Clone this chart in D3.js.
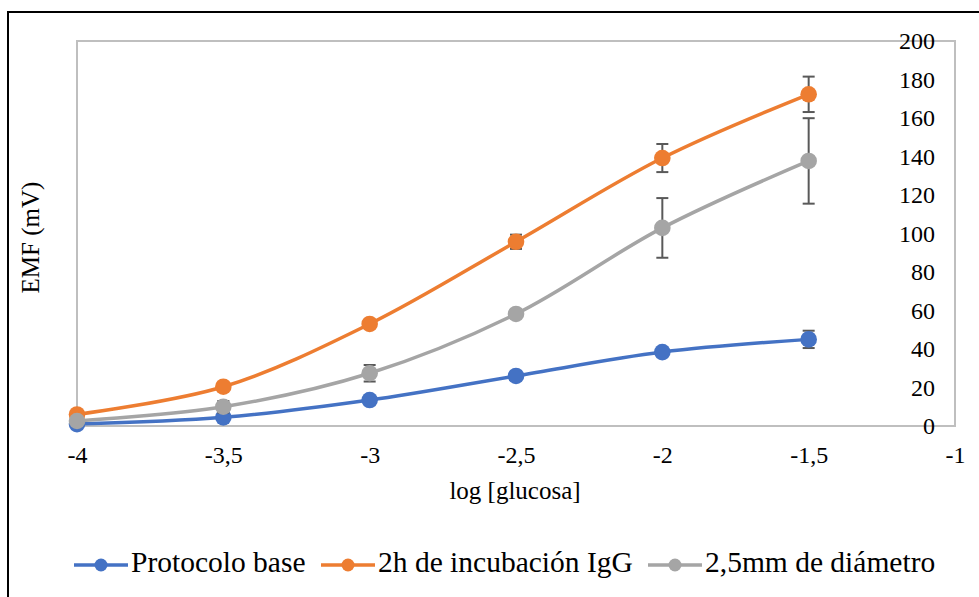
<!DOCTYPE html>
<html>
<head>
<meta charset="utf-8">
<script src="https://cdn.jsdelivr.net/npm/d3@7"></script>
<style>
  body { margin: 0; background: #fff; }
  svg text { font-family: "Liberation Serif", "Times New Roman", serif; }
</style>
</head>
<body>
<div id="chart"></div>
<script>
const xValues = [-4, -3.5, -3, -2.5, -2, -1.5];
const xTicks = [-4, -3.5, -3, -2.5, -2, -1.5, -1];
const yTicks = [0, 20, 40, 60, 80, 100, 120, 140, 160, 180, 200];

const seriesNames = ['Protocolo base', '2h de incubación IgG', '2,5mm de diámetro'];
const baseValues = [1, 4.5, 13.5, 26, 38.4, 45];
const baseErrors = [0.3, 0.5, 0.8, 1, 1.2, 4.5];
const iggValues = [6, 20.4, 53, 95.7, 139.2, 172.3];
const iggErrors = [0.5, 1, 1, 3.7, 7.3, 9.2];
const diamValues = [2.6, 10, 27.4, 58.2, 102.9, 137.7];
const diamErrors = [0.5, 3, 4.3, 1, 15.5, 22.2];

const colors = ['#4472C4', '#ED7D31', '#A5A5A5'];
const serif = '"Liberation Serif", "Times New Roman", serif';

const width = 979, height = 597;
const plot = { left: 77, right: 955, top: 41, bottom: 426 };

const svg = d3.select('#chart').append('svg')
    .attr('width', width)
    .attr('height', height)
    .style('display', 'block');

// outer chart frame (only left/top edges fall inside the picture)
svg.append('rect')
    .attr('x', 8).attr('y', 12)
    .attr('width', 1000).attr('height', 1000)
    .attr('fill', 'none')
    .attr('stroke', '#000')
    .attr('stroke-width', 2);

const x = d3.scaleLinear().domain([-4, -1]).range([plot.left, plot.right]);
const y = d3.scaleLinear().domain([0, 200]).range([plot.bottom, plot.top]);

// plot area border
svg.append('rect')
    .attr('x', plot.left).attr('y', plot.top)
    .attr('width', plot.right - plot.left)
    .attr('height', plot.bottom - plot.top)
    .attr('fill', 'none')
    .attr('stroke', '#BFBFBF')
    .attr('stroke-width', 2);

// x tick labels
const xFmt = d => String(d).replace('.', ',');
const xAxis = d3.axisBottom(x).tickValues(xTicks).tickFormat(xFmt).tickSize(0).tickPadding(0);
const gx = svg.append('g').attr('transform', `translate(0,${plot.bottom + 20})`).call(xAxis);
gx.attr('font-family', null);
gx.select('.domain').remove();
gx.selectAll('text')
    .style('font-family', serif)
    .style('font-size', '24px')
    .attr('fill', '#000');

// y tick labels (right side, inside frame)
const yAxis = d3.axisLeft(y).tickValues(yTicks).tickSize(0).tickPadding(0);
const gy = svg.append('g').attr('transform', `translate(935,0)`).call(yAxis);
gy.attr('font-family', null);
gy.select('.domain').remove();
gy.selectAll('text')
    .style('font-family', serif)
    .style('font-size', '24px')
    .attr('fill', '#000');

// axis titles
svg.append('text')
    .attr('x', (plot.left + plot.right) / 2 - 1)
    .attr('y', 493)
    .attr('text-anchor', 'middle')
    .attr('dominant-baseline', 'middle')
    .style('font-size', '25px')
    .text('log [glucosa]');

svg.append('text')
    .attr('transform', `translate(33,${(plot.top + plot.bottom) / 2 + 4}) rotate(-90)`)
    .attr('text-anchor', 'middle')
    .attr('dominant-baseline', 'middle')
    .style('font-size', '25px')
    .text('EMF (mV)');

const series = [
    { values: baseValues, errors: baseErrors },
    { values: iggValues, errors: iggErrors },
    { values: diamValues, errors: diamErrors }
];

const line = d3.line()
    .x(d => x(d.x))
    .y(d => y(d.v))
    .curve(d3.curveCatmullRom.alpha(0.5));

series.forEach((s, i) => {
    const pts = xValues.map((xv, j) => ({ x: xv, v: s.values[j], e: s.errors[j] }));
    const g = svg.append('g');

    g.append('path')
        .datum(pts)
        .attr('d', line)
        .attr('fill', 'none')
        .attr('stroke', colors[i])
        .attr('stroke-width', 3.5)
        .attr('stroke-linecap', 'round');

    const eb = g.selectAll('.err').data(pts).enter().append('g').attr('class', 'err')
        .attr('stroke', '#595959').attr('stroke-width', 2);
    eb.append('line')
        .attr('x1', d => x(d.x)).attr('x2', d => x(d.x))
        .attr('y1', d => y(d.v + d.e)).attr('y2', d => y(d.v - d.e));
    eb.append('line')
        .attr('x1', d => x(d.x) - 6).attr('x2', d => x(d.x) + 6)
        .attr('y1', d => y(d.v + d.e)).attr('y2', d => y(d.v + d.e));
    eb.append('line')
        .attr('x1', d => x(d.x) - 6).attr('x2', d => x(d.x) + 6)
        .attr('y1', d => y(d.v - d.e)).attr('y2', d => y(d.v - d.e));

    g.selectAll('circle').data(pts).enter().append('circle')
        .attr('cx', d => x(d.x))
        .attr('cy', d => y(d.v))
        .attr('r', 8.3)
        .attr('fill', colors[i]);
});

// legend
const legendItems = [
    { x0: 74, text: seriesNames[0] },
    { x0: 321, text: seriesNames[1] },
    { x0: 648, text: seriesNames[2] }
];
const legendY = 565;
const lg = svg.append('g');
legendItems.forEach((it, i) => {
    lg.append('line')
        .attr('x1', it.x0).attr('x2', it.x0 + 54)
        .attr('y1', legendY).attr('y2', legendY)
        .attr('stroke', colors[i]).attr('stroke-width', 3.5);
    lg.append('circle')
        .attr('cx', it.x0 + 27).attr('cy', legendY)
        .attr('r', 6.5).attr('fill', colors[i]);
    lg.append('text')
        .attr('x', it.x0 + 57)
        .attr('y', legendY)
        .attr('dominant-baseline', 'middle')
        .style('font-size', '29.5px')
        .text(it.text);
});
</script>
</body>
</html>
